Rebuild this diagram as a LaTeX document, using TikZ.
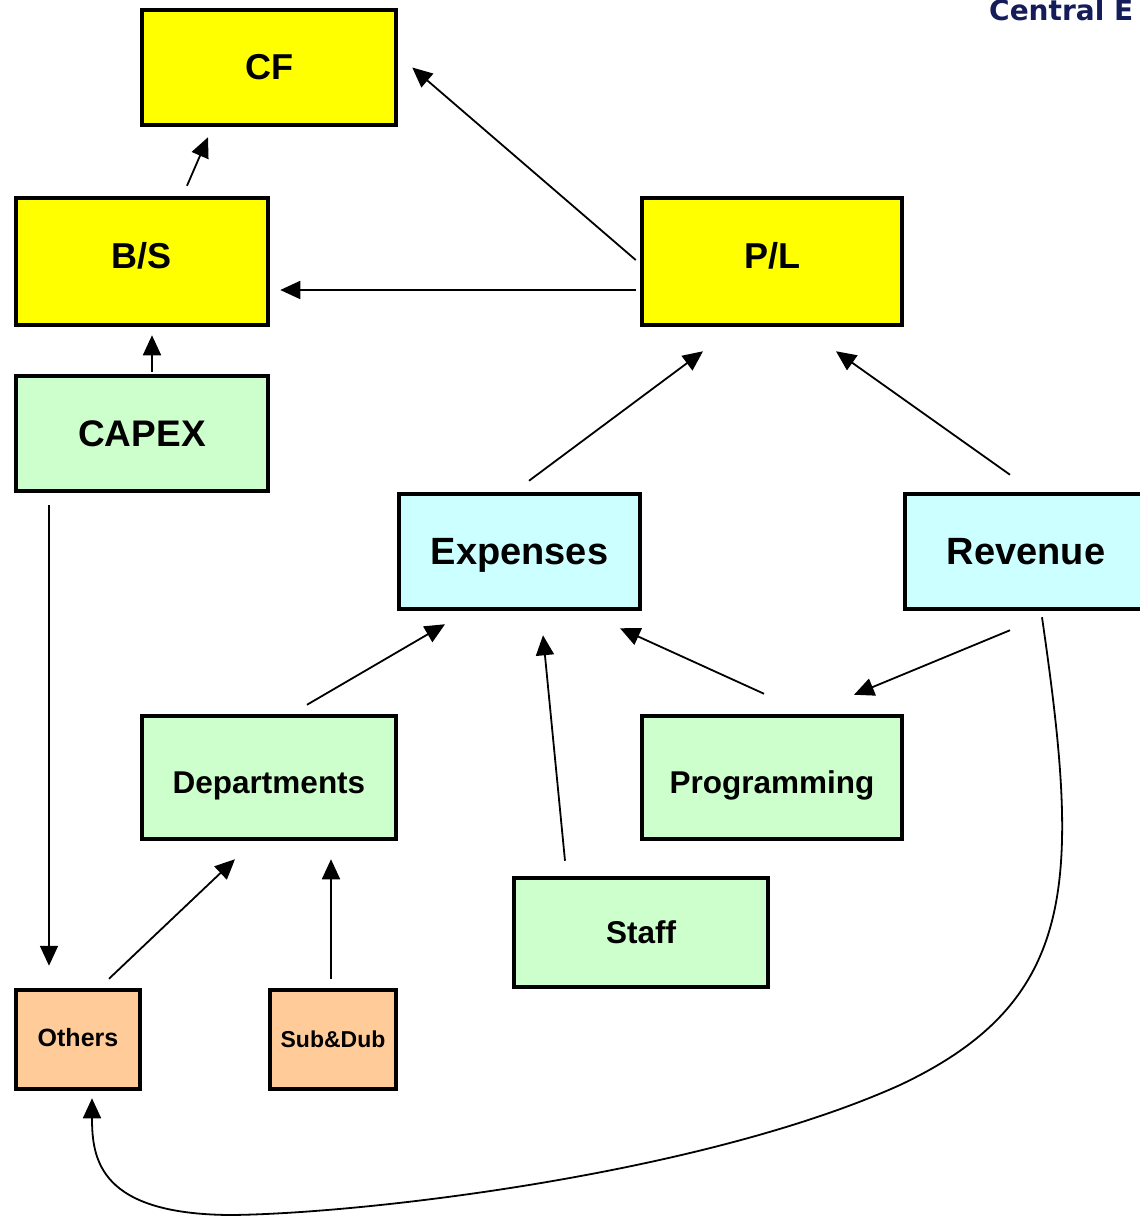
\documentclass[tikz,border=0pt]{standalone}
\usepackage{fontspec}
\setmainfont{Liberation Sans}
\newfontfamily\hdrfont{DejaVu Sans}
\usetikzlibrary{arrows.meta,calc}
\definecolor{yel}{HTML}{FFFF00}
\definecolor{grn}{HTML}{CCFFCC}
\definecolor{cyn}{HTML}{CCFFFF}
\definecolor{org}{HTML}{FFCC99}
\definecolor{navy}{HTML}{141C5A}
\newcommand{\shiftby}[2]{\raisebox{#1}[\height][\depth]{#2}}
\tikzset{
  box/.style={draw=black, line width=4.5pt, inner sep=0pt, font=\bfseries},
  conn/.style={line width=1.8pt, -{Triangle[length=20pt,width=18pt]}},
}
\begin{document}
\begin{tikzpicture}[x=1pt,y=-1pt]
\clip (0,0) rectangle (1140,1216);
\useasboundingbox (0,0) rectangle (1140,1216);
\node[anchor=base west, text=navy, font=\hdrfont\bfseries\fontsize{28}{32}\selectfont, inner sep=0pt] (hdr) at (989,20) {Central E};

\node[box, fill=yel, minimum width=254pt, minimum height=115pt, font=\bfseries\fontsize{36}{40}\selectfont] (cf) at (269,67.5) {CF};
\node[box, fill=yel, minimum width=252pt, minimum height=127pt, font=\bfseries\fontsize{36}{40}\selectfont] (bs) at (142,261.5) {\shiftby{6pt}{B/S}};
\node[box, fill=yel, minimum width=260pt, minimum height=127pt, font=\bfseries\fontsize{36}{40}\selectfont] (pl) at (772,261.5) {\shiftby{6pt}{P/L}};
\node[box, fill=grn, minimum width=252pt, minimum height=115pt, font=\bfseries\fontsize{37}{40}\selectfont] (capex) at (142,433.5) {CAPEX};
\node[box, fill=cyn, minimum width=241pt, minimum height=115pt, font=\bfseries\fontsize{38}{40}\selectfont] (exp) at (519.5,551.5) {\shiftby{-4pt}{Expenses}};
\node[box, fill=cyn, minimum width=242pt, minimum height=115pt, font=\bfseries\fontsize{38}{40}\selectfont] (rev) at (1026,551.5) {Revenue};
\node[box, fill=grn, minimum width=254pt, minimum height=123pt, font=\bfseries\fontsize{31.5}{36}\selectfont] (dep) at (269,777.5) {\shiftby{-8pt}{Departments}};
\node[box, fill=grn, minimum width=260pt, minimum height=123pt, font=\bfseries\fontsize{31.5}{36}\selectfont] (prog) at (772,777.5) {\shiftby{-8pt}{Programming}};
\node[box, fill=grn, minimum width=254pt, minimum height=109pt, font=\bfseries\fontsize{31.5}{36}\selectfont] (staff) at (641,932.5) {Staff};
\node[box, fill=org, minimum width=124pt, minimum height=99pt, font=\bfseries\fontsize{25}{30}\selectfont] (others) at (78,1039.5) {\shiftby{2pt}{Others}};
\node[box, fill=org, minimum width=126pt, minimum height=99pt, font=\bfseries\fontsize{23}{28}\selectfont] (sub) at (333,1039.5) {Sub\&Dub};

\draw[conn] ($(bs.north)+(45,-10)$) -- ($(cf.south)+(-61,10)$);
\draw[conn] ($(pl.west)+(-4,-1.5)$) -- ($(cf.east)+(14,0)$);
\draw[conn] ($(pl.west)+(-4,28.5)$) -- ($(bs.east)+(10,28.5)$);
\draw[conn] ($(capex.north)+(10,-2)$) -- ($(bs.south)+(10,8)$);
\draw[conn] ($(exp.north)+(9.5,-11)$) -- ($(pl.south)+(-69,24)$);
\draw[conn] ($(rev.north)+(-16,-17)$) -- ($(pl.south)+(64,24)$);
\draw[conn] ($(capex.south)+(-93,12)$) -- ($(others.north)+(-29,-22)$);
\draw[conn] ($(dep.north)+(38,-9)$) -- ($(exp.south)+(-74.5,13)$);
\draw[conn] ($(staff.north)+(-76,-15)$) -- ($(exp.south)+(23.5,24)$);
\draw[conn] ($(prog.north)+(-8,-20)$) -- ($(exp.south)+(100.5,17)$);
\draw[conn] ($(rev.south)+(-16,19)$) -- ($(prog.north)+(82,-19)$);
\draw[conn] ($(others.north)+(31,-9)$) -- ($(dep.south)+(-34,18)$);
\draw[conn] ($(sub.north)+(-2,-9)$) -- ($(dep.south)+(62,18)$);
\draw[conn] ($(rev.south)+(16,6)$) .. controls (1080,880) and (1080,1000) .. (900,1085)
  .. controls (700,1175) and (360,1214) .. (230,1215)
  .. controls (100,1214) and (92,1160) .. ($(others.south)+(14,7)$);
\end{tikzpicture}
\end{document}
